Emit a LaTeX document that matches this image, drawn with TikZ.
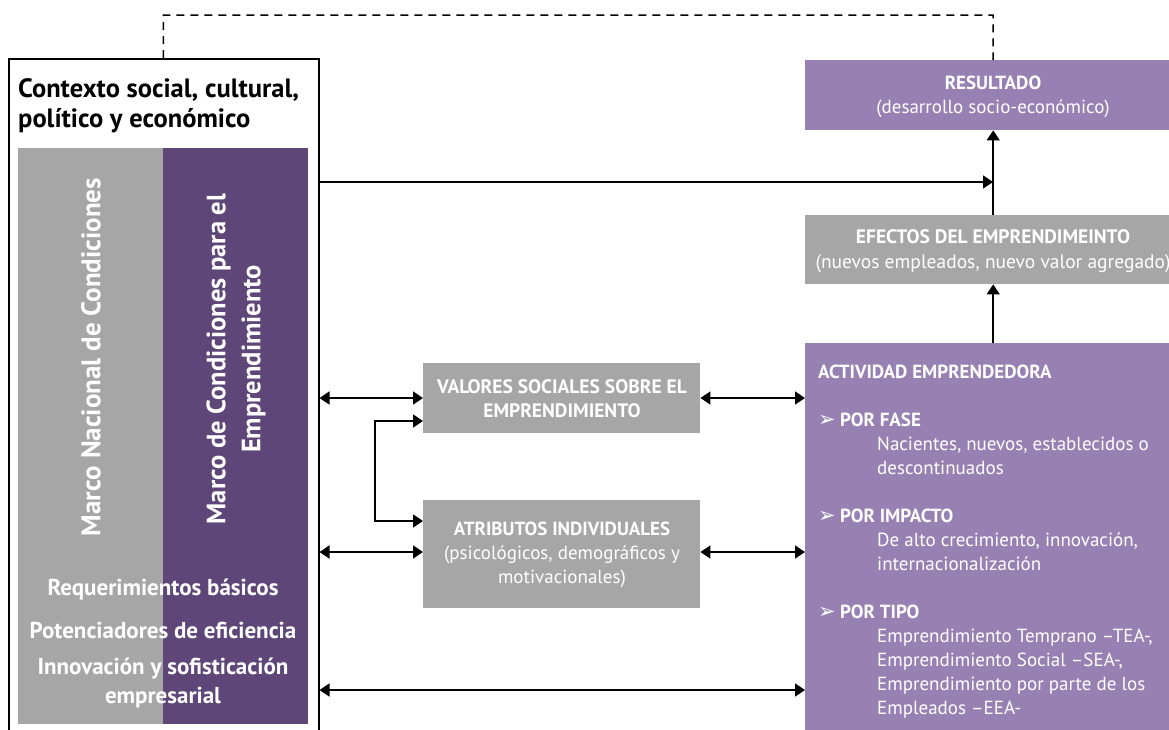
\documentclass[tikz,border=0pt]{standalone}
\usepackage{fontspec}
\setmainfont{PT Sans}
\newfontfamily\symfont{DejaVu Sans}
\usetikzlibrary{arrows.meta,calc}
\definecolor{gcol}{HTML}{A6A6A6}
\definecolor{dpurple}{HTML}{5E4778}
\definecolor{lpurple}{HTML}{9781B3}
\tikzset{
  box/.style={draw=none, inner sep=0pt, anchor=north west},
  txt/.style={inner sep=0pt, align=center, text=white},
  conn/.style={line width=1.6pt, -{Triangle[length=10pt,width=13pt]}},
  dconn/.style={line width=1.6pt, {Triangle[length=10pt,width=13pt]}-{Triangle[length=10pt,width=13pt]}},
}
\newcommand{\bul}{\makebox[22pt][l]{\symfont\fontsize{21}{21}\selectfont ➢}}
\newcommand{\ind}{\hspace*{59pt}}
\begin{document}
\begin{tikzpicture}[x=1pt,y=-1pt]
\useasboundingbox (0,0) rectangle (1169,729);
% outer context box
\node[box, draw=black, line width=1.5pt, minimum width=310pt, minimum height=690pt] (outer) at (8,58) {};
\node[box, fill=gcol, minimum width=145pt, minimum height=576pt] (gray) at (18,148) {};
\node[box, fill=dpurple, minimum width=145pt, minimum height=576pt] (purp) at (163,148) {};
\node[inner sep=0pt, anchor=north west, align=left, font=\bfseries\fontsize{26.5}{30}\selectfont] (title) at (18,78) {Contexto social, cultural,\\político y económico};
\node[txt, rotate=90, font=\bfseries\fontsize{27}{32}\selectfont] (mnc) at (91,357) {Marco Nacional de Condiciones};
\node[txt, rotate=90, font=\bfseries\fontsize{26.5}{35}\selectfont] (mce) at (236,359) {Marco de Condiciones para el\\Emprendimiento};
\node[txt, font=\bfseries\fontsize{23}{28}\selectfont] (req) at (163,590) {Requerimientos básicos};
\node[txt, font=\bfseries\fontsize{23}{28}\selectfont] (pot) at (163,630) {Potenciadores de eficiencia};
\node[txt, font=\bfseries\fontsize{23}{29}\selectfont] (inn) at (163,683) {Innovación y sofisticación\\empresarial};
% right column boxes
\node[box, fill=lpurple, minimum width=376pt, minimum height=70pt] (res) at (805,60) {};
\node[txt, font=\fontsize{19}{24}\selectfont] (rest) at (993,97) {\textbf{RESULTADO}\\(desarrollo socio-económico)};
\node[box, fill=gcol, minimum width=376pt, minimum height=69pt] (eff) at (805,215) {};
\node[txt, font=\fontsize{19.5}{25}\selectfont] (efft) at (993,251) {\textbf{EFECTOS DEL EMPRENDIMEINTO}\\(nuevos empleados, nuevo valor agregado)};
\node[box, fill=lpurple, minimum width=376pt, minimum height=400pt] (act) at (805,343) {};
\node[inner sep=0pt, anchor=north west, align=left, text=white, font=\fontsize{19}{24}\selectfont] (actt) at (818,365) {%
\textbf{ACTIVIDAD EMPRENDEDORA}\\[24pt]
\bul\textbf{POR FASE}\\
\ind Nacientes, nuevos, establecidos o\\
\ind descontinuados\\[24pt]
\bul\textbf{POR IMPACTO}\\
\ind De alto crecimiento, innovación,\\
\ind internacionalización\\[24pt]
\bul\textbf{POR TIPO}\\
\ind Emprendimiento Temprano –TEA-,\\
\ind Emprendimiento Social –SEA-,\\
\ind Emprendimiento por parte de los\\
\ind Empleados –EEA-};
% middle boxes
\node[box, fill=gcol, minimum width=277pt, minimum height=70pt] (val) at (423,363) {};
\node[txt, font=\bfseries\fontsize{19.5}{24}\selectfont] (valt) at (562,399) {VALORES SOCIALES SOBRE EL\\EMPRENDIMIENTO};
\node[box, fill=gcol, minimum width=277pt, minimum height=108pt] (atr) at (423,500) {};
\node[txt, font=\fontsize{19}{24}\selectfont] (atrt) at (562,555) {\textbf{ATRIBUTOS INDIVIDUALES}\\(psicológicos, demográficos y\\motivacionales)};
% connectors
\coordinate (jn) at (993,182);
\coordinate (dtop) at (993,15);
\coordinate (bot) at (560,690);
\coordinate (bk1) at (423,421);
\coordinate (bk2) at (423,521);
\coordinate (la) at (423,398);
\coordinate (lb) at (423,552);
\draw[line width=1.5pt, dash pattern=on 8pt off 6pt] (outer.north -| gray.east) |- (dtop) -- (res.north);
\draw[conn] (jn -| outer.east) -- (jn);
\draw[conn] (eff.north) -- (res.south);
\draw[conn] (act.north) -- (eff.south);
\draw[dconn] (la -| outer.east) -- (la);
\draw[dconn] (lb -| outer.east) -- (lb);
\draw[dconn] (la -| val.east) -- (la -| act.west);
\draw[dconn] (lb -| val.east) -- (lb -| act.west);
\draw[dconn] (bot -| outer.east) -- (bot -| act.west);
\draw[dconn] (bk1) -- ++(-48,0) |- (bk2);
\end{tikzpicture}
\end{document}
